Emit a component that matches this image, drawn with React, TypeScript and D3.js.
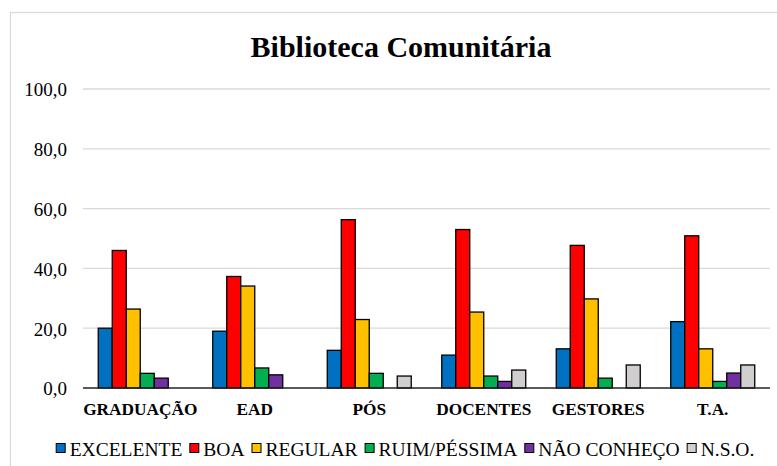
import React, { useEffect, useRef } from "react";
import * as d3 from "d3";

const categories = ["GRADUAÇÃO", "EAD", "PÓS", "DOCENTES", "GESTORES", "T.A."];
const seriesNames = ["EXCELENTE", "BOA", "REGULAR", "RUIM/PÉSSIMA", "NÃO CONHEÇO", "N.S.O."];
const seriesColors = ["#0070C0", "#FF0000", "#FFC000", "#00B050", "#7030A0", "#D0CECE"];
const excelente = [20.0, 19.0, 12.6, 11.0, 13.1, 22.2];
const boa = [46.0, 37.3, 56.3, 53.0, 47.7, 50.9];
const regular = [26.4, 34.1, 22.9, 25.4, 29.8, 13.1];
const ruim = [4.9, 6.7, 4.9, 4.0, 3.3, 2.2];
const naoConheco = [3.3, 4.4, 0, 2.2, 0, 5.0];
const nso = [0, 0, 4.0, 6.0, 7.7, 7.7];
const yTicks = [0, 20, 40, 60, 80, 100];
const title = "Biblioteca Comunitária";

const seriesValues = [excelente, boa, regular, ruim, naoConheco, nso];

export default function App() {
  const ref = useRef<SVGSVGElement | null>(null);

  useEffect(() => {
    const svg = d3.select(ref.current);
    svg.selectAll("*").remove();
    const W = 777, H = 466;
    const left = 83, right = 770, top = 89, bottom = 388;
    const font = "'Times New Roman', 'Liberation Serif', serif";

    svg.append("rect").attr("width", W).attr("height", H).attr("fill", "#fff");
    // chart border
    svg.append("rect").attr("x", 10.5).attr("y", 12.5).attr("width", 800).attr("height", 500)
      .attr("fill", "none").attr("stroke", "#D9D9D9").attr("stroke-width", 1.2);

    const x = d3.scaleBand<string>().domain(categories).range([left, right]).padding(0);
    const xi = d3.scaleBand<number>().domain(d3.range(seriesNames.length))
      .range([0, x.bandwidth()]).paddingInner(0).paddingOuter(1.09);
    const y = d3.scaleLinear().domain([0, 100]).range([bottom, top]);

    // gridlines
    svg.append("g").selectAll("line").data(yTicks.filter(t => t > 0)).join("line")
      .attr("x1", left).attr("x2", right)
      .attr("y1", d => y(d)).attr("y2", d => y(d))
      .attr("stroke", "#D9D9D9").attr("stroke-width", 1.3);

    // y labels
    svg.append("g").selectAll("text").data(yTicks).join("text")
      .attr("x", 67).attr("y", d => y(d) + 7.4)
      .attr("text-anchor", "end")
      .attr("font-family", font).attr("font-size", 19).attr("fill", "#000")
      .text(d => d3.format(".1f")(d).replace(".", ","));

    // bars
    const bars = svg.append("g");
    seriesValues.forEach((vals, si) => {
      bars.append("g").selectAll("rect").data(vals.map((v, ci) => ({ v, c: categories[ci] })).filter(d => d.v > 0))
        .join("rect")
        .attr("x", d => (x(d.c) as number) + (xi(si) as number))
        .attr("width", xi.bandwidth())
        .attr("y", d => y(d.v))
        .attr("height", d => y(0) - y(d.v))
        .attr("fill", seriesColors[si])
        .attr("stroke", "#000").attr("stroke-width", 1.3);
    });

    // axis baseline
    svg.append("line").attr("x1", left).attr("x2", right).attr("y1", bottom).attr("y2", bottom)
      .attr("stroke", "#222").attr("stroke-width", 1.6);

    // category labels
    svg.append("g").selectAll("text").data(categories).join("text")
      .attr("x", d => (x(d) as number) + x.bandwidth() / 2).attr("y", 415)
      .attr("text-anchor", "middle")
      .attr("font-family", font).attr("font-size", 17.3).attr("font-weight", "bold").attr("fill", "#000")
      .text(d => d);

    // title
    svg.append("text")
      .attr("x", 401).attr("y", 57)
      .attr("text-anchor", "middle")
      .attr("font-family", font).attr("font-size", 30).attr("font-weight", "bold").attr("fill", "#000")
      .text(title);

    // legend
    const lg = svg.append("g");
    const box = 10, gapBox = 4, gapItem = 7;
    let cx = 0;
    seriesNames.forEach((name, i) => {
      const g = lg.append("g");
      g.append("rect").attr("x", cx + 0.5).attr("y", -12.5).attr("width", box - 1).attr("height", box - 1)
        .attr("fill", seriesColors[i]).attr("stroke", "#000").attr("stroke-width", 1);
      const t = g.append("text")
        .attr("x", cx + box + gapBox).attr("y", 0)
        .attr("font-family", font).attr("font-size", 19.5).attr("fill", "#000")
        .text(name);
      const w = (t.node() as SVGTextElement).getComputedTextLength();
      cx += box + gapBox + w + gapItem;
    });
    const total = cx - gapItem;
    const startX = 405 - total / 2;
    lg.attr("transform", `translate(${startX},456)`);
  }, []);

  return (
    <svg ref={ref} width={777} height={466}
      style={{ position: "fixed", left: 0, top: 0, display: "block" }} />
  );
}
